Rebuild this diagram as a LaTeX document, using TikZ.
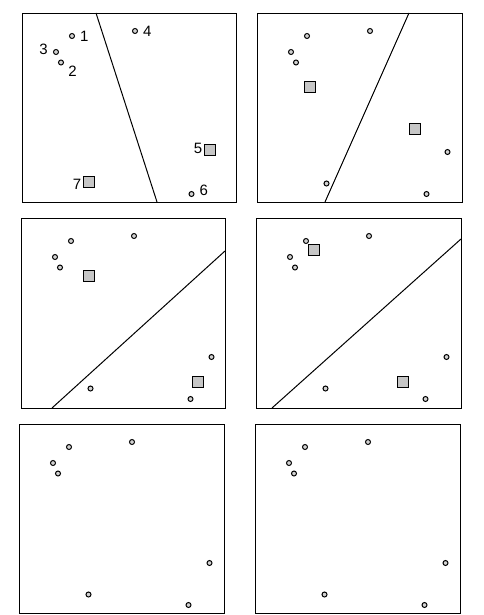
\documentclass[tikz,border=0pt]{standalone}
\usepackage{fontspec}
\setmainfont{Liberation Sans}
\usetikzlibrary{positioning}
\newcommand{\ptlist}{1/50/23,2/39/49.5,3/34/39,4/113/18,5/190.5/139,6/169.5/181,7/69.5/170.5}
\tikzset{
  pt/.style={circle, draw, fill=gray!35, line width=1pt, inner sep=0pt, minimum size=5pt},
  ctr/.style={rectangle, draw, fill=gray!45, line width=0.8pt, inner sep=0pt, minimum size=10.5pt},
  panel/.style={draw, line width=0.9pt},
  sep/.style={line width=1pt},
  num/.style={font=\fontsize{15}{17}\selectfont, inner sep=1pt}
}

\begin{document}
\begin{tikzpicture}[x=1pt, y=-1pt]
\useasboundingbox (0,0) rectangle (483,615);

\begin{scope}[shift={(22,13)}]
\draw[panel] (0,0) rectangle (214,189);
\draw[sep] (74,0) -- (135,189);
\node[pt] (a1) at (50,23) {};
\node[pt] (a2) at (39,49.5) {};
\node[pt] (a3) at (34,39) {};
\node[pt] (a4) at (113,18) {};
\node[pt] (a6) at (169.5,181) {};
\node[ctr] (a5) at (188,137) {};
\node[ctr] (a7) at (67,169) {};
\node[num, right=4pt of a1] (n1) {1};
\node[num, below right=0pt and 4pt of a2] (n2) {2};
\node[num, left=4pt of a3, yshift=3pt] (n3) {3};
\node[num, right=4pt of a4] (n4) {4};
\node[num, left=1pt of a5, yshift=2pt] (n5) {5};
\node[num, right=4pt of a6, yshift=4pt] (n6) {6};
\node[num, left=1pt of a7, yshift=-2pt] (n7) {7};
\end{scope}

\begin{scope}[shift={(257,13)}]
\draw[panel] (0,0) rectangle (205,189);
\draw[sep] (152,0) -- (68,189);
\foreach \n/\px/\py in \ptlist {\node[pt] (b\n) at (\px,\py) {};}
\node[ctr] (bc1) at (53,74) {};
\node[ctr] (bc2) at (158,116) {};
\end{scope}

\begin{scope}[shift={(21,218)}]
\draw[panel] (0,0) rectangle (204,190);
\draw[sep] (31,190) -- (204,33);
\foreach \n/\px/\py in \ptlist {\node[pt] (c\n) at (\px,\py) {};}
\node[ctr] (cc1) at (68,58) {};
\node[ctr] (cc2) at (177,164) {};
\end{scope}

\begin{scope}[shift={(256,218)}]
\draw[panel] (0,0) rectangle (205,190);
\draw[sep] (16,190) -- (205,21);
\foreach \n/\px/\py in \ptlist {\node[pt] (d\n) at (\px,\py) {};}
\node[ctr] (dc1) at (58,32) {};
\node[ctr] (dc2) at (147,164) {};
\end{scope}

\begin{scope}[shift={(19,424)}]
\draw[panel] (0,0) rectangle (205,189);
\foreach \n/\px/\py in \ptlist {\node[pt] (e\n) at (\px,\py) {};}
\end{scope}

\begin{scope}[shift={(255,424)}]
\draw[panel] (0,0) rectangle (205,189);
\foreach \n/\px/\py in \ptlist {\node[pt] (f\n) at (\px,\py) {};}
\end{scope}
\end{tikzpicture}
\end{document}
